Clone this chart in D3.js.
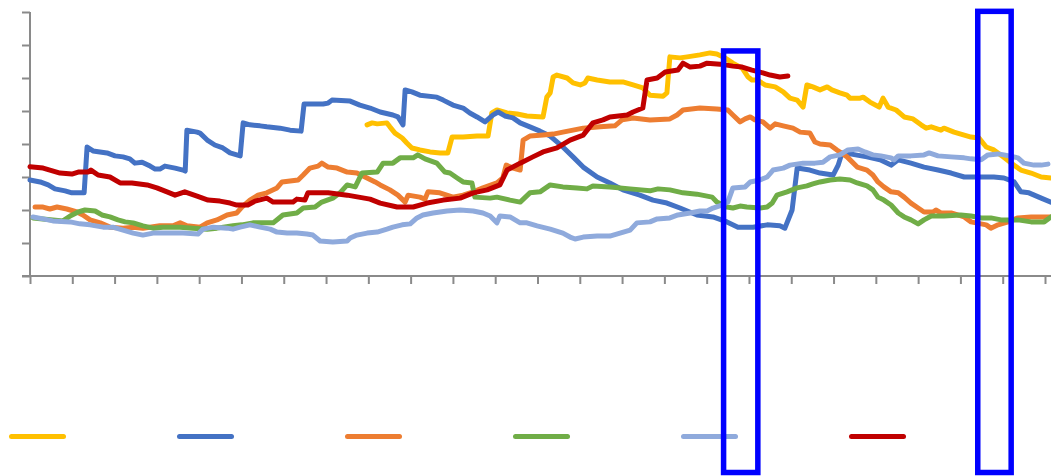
<!DOCTYPE html>
<html><head><meta charset="utf-8">
<script src="https://cdn.jsdelivr.net/npm/d3@7"></script>
<style>html,body{margin:0;padding:0;background:#fff}svg{display:block}</style>
</head><body>
<svg id="chart" width="1051" height="476"></svg>
<script>
// ---- data (x in period units, y in value units) ----
const xTicks = d3.range(0, 241, 10);
const yTicks = d3.range(0, 9, 1);

const yellowData = [[79.7,4.58],[80.9,4.64],[82.1,4.61],[84.4,4.64],[85.1,4.52],[86.3,4.33],[88.0,4.18],[89.1,4.03],[90.3,3.88],[92.2,3.82],[94.6,3.76],[97.0,3.73],[98.8,3.73],[99.8,4.21],[102.4,4.21],[105.7,4.24],[108.3,4.24],[109.2,4.94],[110.4,5.03],[112.8,4.94],[115.2,4.91],[117.5,4.85],[121.3,4.82],[122.2,5.42],[123.0,5.55],[123.7,6.03],[124.6,6.09],[127.0,6.00],[128.4,5.85],[130.1,5.79],[131.2,5.85],[131.9,6.00],[134.1,5.94],[137.1,5.88],[140.2,5.88],[142.6,5.79],[144.9,5.70],[146.6,5.48],[149.7,5.45],[150.6,5.55],[151.3,6.64],[153.7,6.61],[155.4,6.64],[158.4,6.70],[160.8,6.76],[162.4,6.73],[164.3,6.61],[166.2,6.45],[168.4,6.30],[169.8,6.03],[170.7,5.94],[171.9,5.94],[173.8,5.79],[176.2,5.73],[178.1,5.58],[179.7,5.39],[181.4,5.33],[182.8,5.12],[183.7,5.79],[185.1,5.73],[186.8,5.64],[188.5,5.73],[189.6,5.64],[191.5,5.55],[193.2,5.48],[193.9,5.39],[196.3,5.39],[197.0,5.42],[198.6,5.27],[200.8,5.12],[201.7,5.39],[202.9,5.12],[204.8,5.03],[206.7,4.82],[208.8,4.76],[210.7,4.58],[211.9,4.48],[213.1,4.52],[215.4,4.42],[216.1,4.48],[218.5,4.36],[220.9,4.27],[222.5,4.21],[224.4,4.18],[226.1,3.91],[227.9,3.82],[230.1,3.61],[232.0,3.42],[234.3,3.21],[236.7,3.12],[239.1,3.00],[241.4,2.97]];

const blueData = [[0,2.91],[2.4,2.85],[4.3,2.76],[5.9,2.64],[8.3,2.58],[9.9,2.52],[12.3,2.52],[12.8,2.52],[13.5,3.91],[14.9,3.79],[18.2,3.73],[20.1,3.64],[22.0,3.61],[23.6,3.55],[24.8,3.42],[26.5,3.45],[28.4,3.33],[29.6,3.24],[30.7,3.24],[31.9,3.33],[34.3,3.27],[36.2,3.21],[36.7,3.18],[37.1,4.42],[39.5,4.36],[40.2,4.33],[41.9,4.12],[43.7,3.97],[45.6,3.88],[47.3,3.73],[48.9,3.67],[49.7,3.64],[50.4,4.64],[52.0,4.58],[54.4,4.55],[56.0,4.52],[59.1,4.48],[61.5,4.42],[64.1,4.39],[64.8,5.21],[69.3,5.21],[70.5,5.24],[71.4,5.33],[75.7,5.30],[78.0,5.18],[80.4,5.09],[82.8,4.97],[85.8,4.88],[87.0,4.82],[88.2,4.58],[88.7,5.64],[90.3,5.58],[92.2,5.48],[96.2,5.42],[97.7,5.33],[100.0,5.18],[102.4,5.09],[104.0,4.94],[105.7,4.82],[107.6,4.67],[109.5,4.88],[110.7,4.97],[112.3,4.85],[114.2,4.79],[115.9,4.64],[118.2,4.52],[120.6,4.39],[123.0,4.24],[126.0,3.91],[128.4,3.61],[130.8,3.30],[134.1,3.00],[137.1,2.82],[140.2,2.61],[144.2,2.45],[147.3,2.30],[150.6,2.21],[153.7,2.06],[157.7,1.85],[161.5,1.79],[164.8,1.64],[167.4,1.48],[171.0,1.48],[174.3,1.55],[177.3,1.52],[178.5,1.45],[180.2,2.00],[181.4,3.27],[184.4,3.21],[186.8,3.12],[189.9,3.06],[191.1,3.36],[192.0,3.73],[193.9,3.70],[197.9,3.61],[201.0,3.52],[203.6,3.36],[205.3,3.52],[208.3,3.42],[211.4,3.30],[214.7,3.21],[217.8,3.12],[220.9,3.00],[224.9,3.00],[227.9,3.00],[230.3,2.97],[232.7,2.85],[234.3,2.55],[236.2,2.52],[239.1,2.36],[241.4,2.24]];

const orangeData = [[1.2,2.09],[3.1,2.09],[4.7,2.03],[6.4,2.09],[8.7,2.03],[11.1,1.94],[12.5,1.85],[14.2,1.70],[16.6,1.61],[18.9,1.48],[22.0,1.45],[24.4,1.48],[26.7,1.45],[30.7,1.52],[33.8,1.52],[35.5,1.61],[37.1,1.52],[40.2,1.48],[41.9,1.61],[44.2,1.70],[46.6,1.85],[48.9,1.91],[50.1,2.09],[52.0,2.30],[53.9,2.45],[56.0,2.52],[58.4,2.67],[59.6,2.85],[63.4,2.91],[64.6,3.06],[66.2,3.27],[68.1,3.33],[69.0,3.42],[70.5,3.30],[72.6,3.27],[75.0,3.15],[77.3,3.12],[79.7,2.97],[81.6,2.85],[82.8,2.76],[85.1,2.61],[87.0,2.45],[88.7,2.24],[89.4,2.45],[92.2,2.39],[93.4,2.33],[94.1,2.55],[96.9,2.52],[100.0,2.39],[102.4,2.45],[104.8,2.55],[107.1,2.67],[110.4,2.82],[111.8,2.97],[112.6,3.36],[114.2,3.27],[115.9,3.21],[116.6,4.12],[118.2,4.24],[121.3,4.27],[123.7,4.30],[126.0,4.36],[128.4,4.42],[130.8,4.48],[134.8,4.52],[138.3,4.55],[140.0,4.73],[142.6,4.79],[146.6,4.73],[151.3,4.76],[153.0,4.88],[154.4,5.03],[158.4,5.09],[162.4,5.06],[165.0,5.03],[166.2,4.88],[167.9,4.67],[169.1,4.76],[170.3,4.82],[171.4,4.73],[173.3,4.67],[175.0,4.48],[176.2,4.61],[178.1,4.55],[180.4,4.48],[182.1,4.36],[184.4,4.33],[185.6,4.06],[186.8,4.00],[189.2,3.97],[190.8,3.82],[193.2,3.61],[195.6,3.30],[197.9,3.21],[199.3,3.06],[200.5,2.85],[201.9,2.70],[203.6,2.55],[205.3,2.52],[206.7,2.39],[208.3,2.21],[210.0,2.06],[211.4,1.94],[213.5,1.94],[214.2,2.00],[215.4,1.91],[217.8,1.91],[220.9,1.79],[222.5,1.64],[226.1,1.55],[227.2,1.45],[228.9,1.55],[231.3,1.64],[233.6,1.76],[236.7,1.79],[241.4,1.79]];

const greenData = [[0.7,1.76],[5.4,1.70],[7.8,1.67],[9.5,1.82],[11.4,1.94],[13.0,2.00],[15.4,1.97],[17.0,1.85],[18.9,1.79],[20.8,1.70],[22.5,1.64],[24.4,1.61],[26.7,1.52],[29.1,1.45],[31.4,1.48],[35.5,1.48],[38.5,1.45],[41.9,1.42],[44.2,1.45],[48.0,1.52],[50.1,1.55],[52.7,1.61],[57.5,1.61],[59.8,1.85],[63.1,1.91],[64.6,2.06],[67.4,2.09],[69.0,2.24],[71.6,2.36],[73.3,2.52],[75.0,2.76],[76.9,2.70],[78.5,3.12],[82.1,3.15],[83.5,3.42],[85.8,3.42],[87.5,3.58],[90.6,3.58],[91.7,3.67],[93.4,3.55],[96.2,3.42],[98.1,3.15],[99.3,3.12],[101.0,2.97],[102.4,2.85],[104.5,2.82],[105.2,2.39],[108.8,2.36],[110.4,2.39],[113.5,2.30],[115.9,2.24],[118.2,2.52],[120.6,2.55],[123.0,2.76],[126.0,2.70],[129.3,2.67],[131.7,2.64],[133.1,2.73],[137.1,2.70],[141.9,2.64],[146.6,2.58],[148.5,2.64],[151.3,2.61],[154.4,2.52],[157.7,2.48],[161.3,2.39],[162.4,2.24],[164.8,2.09],[166.2,2.06],[167.9,2.12],[169.5,2.09],[172.6,2.06],[174.3,2.09],[175.5,2.21],[176.6,2.45],[179.0,2.55],[181.4,2.67],[183.7,2.73],[185.1,2.79],[186.8,2.85],[189.2,2.91],[191.5,2.94],[193.9,2.91],[195.6,2.82],[197.9,2.73],[199.3,2.61],[200.5,2.39],[201.9,2.30],[203.6,2.15],[205.3,1.91],[206.7,1.79],[208.3,1.70],[210.0,1.58],[211.4,1.70],[213.1,1.82],[216.1,1.82],[220.1,1.85],[222.5,1.82],[224.9,1.76],[227.2,1.76],[229.6,1.70],[233.6,1.70],[236.7,1.64],[239.8,1.64],[241.4,1.79]];

const lightBlueData = [[0.7,1.79],[3.1,1.73],[5.4,1.67],[9.5,1.64],[11.8,1.58],[14.2,1.55],[17.3,1.48],[19.6,1.48],[22.0,1.39],[24.4,1.30],[26.7,1.24],[29.1,1.30],[33.1,1.30],[36.2,1.30],[39.7,1.27],[40.9,1.42],[43.3,1.48],[46.6,1.45],[48.0,1.42],[49.7,1.48],[52.0,1.55],[54.4,1.48],[56.8,1.42],[58.4,1.33],[60.8,1.30],[63.1,1.30],[65.5,1.27],[66.9,1.24],[68.6,1.06],[71.6,1.03],[75.0,1.06],[75.7,1.15],[77.3,1.24],[79.7,1.30],[82.1,1.33],[84.4,1.42],[85.8,1.48],[88.0,1.55],[89.9,1.58],[91.5,1.76],[92.9,1.85],[95.3,1.91],[98.6,1.97],[101.7,2.00],[104.8,1.97],[107.1,1.91],[108.8,1.82],[110.4,1.61],[111.1,1.82],[113.5,1.79],[115.9,1.61],[117.5,1.61],[119.9,1.52],[123.0,1.42],[126.0,1.30],[127.7,1.18],[128.9,1.12],[130.8,1.18],[134.1,1.21],[137.1,1.21],[139.5,1.30],[141.9,1.39],[143.5,1.61],[146.6,1.64],[148.3,1.73],[151.3,1.76],[153.2,1.85],[156.1,1.91],[158.4,1.97],[160.1,1.97],[161.5,2.06],[163.6,2.15],[165.0,2.24],[166.2,2.67],[169.1,2.70],[170.3,2.85],[172.6,2.91],[174.3,3.00],[175.7,3.21],[178.1,3.27],[179.7,3.36],[182.8,3.42],[185.6,3.42],[187.5,3.45],[189.2,3.61],[191.5,3.67],[193.4,3.82],[195.8,3.85],[197.4,3.76],[199.3,3.67],[201.2,3.64],[203.6,3.58],[204.3,3.52],[205.3,3.64],[208.3,3.64],[211.4,3.67],[212.6,3.73],[214.7,3.64],[217.8,3.61],[220.9,3.58],[222.5,3.55],[224.9,3.52],[226.5,3.67],[228.9,3.70],[230.3,3.67],[233.6,3.58],[235.0,3.42],[237.4,3.36],[239.1,3.36],[240.7,3.39]];

const redData = [[0,3.31],[3.1,3.27],[4.7,3.21],[7.1,3.12],[9.9,3.09],[11.4,3.15],[13.7,3.15],[14.4,3.21],[16.1,3.06],[18.9,3.00],[21.3,2.82],[24.1,2.82],[27.7,2.76],[30.0,2.67],[32.4,2.55],[34.3,2.45],[36.6,2.55],[39.5,2.42],[42.1,2.30],[44.9,2.27],[47.3,2.21],[48.9,2.15],[51.5,2.15],[53.2,2.27],[56.0,2.36],[57.5,2.24],[62.2,2.24],[63.1,2.33],[65.0,2.30],[65.7,2.52],[70.5,2.52],[75.0,2.45],[80.4,2.33],[82.8,2.21],[86.8,2.09],[90.6,2.09],[93.9,2.21],[97.7,2.30],[101.7,2.36],[104.8,2.52],[108.1,2.61],[111.1,2.76],[112.8,3.21],[115.9,3.42],[118.9,3.61],[121.3,3.76],[124.6,3.88],[127.7,4.12],[130.8,4.27],[133.1,4.64],[135.5,4.73],[137.1,4.82],[141.2,4.88],[142.6,4.97],[144.9,5.09],[145.9,5.94],[148.3,6.00],[150.2,6.18],[153.2,6.24],[154.4,6.45],[156.1,6.33],[158.4,6.36],[160.1,6.45],[163.2,6.42],[166.2,6.36],[168.4,6.33],[170.7,6.24],[172.6,6.18],[175.0,6.09],[177.3,6.03],[179.2,6.06]];

const seriesKeys = ["yellow","blue","orange","green","lightBlue","red"];
const seriesColors = ["#FFC000","#4472C4","#ED7D31","#70AD47","#8FAADC","#C00000"];
const seriesValues = [yellowData, blueData, orangeData, greenData, lightBlueData, redData];

// highlighted periods [start, end, top value]
const highlightStart = [164.0, 224.1];
const highlightEnd = [172.1, 232.0];
const highlightTop = [6.82, 8.02];

// ---- layout ----
const W = 1051, H = 476;
const svg = d3.select("#chart");
const x = d3.scaleLinear().domain([0, 240]).range([30, 1045]);
const y = d3.scaleLinear().domain([0, 8]).range([276, 12]);
const axisColor = "#8a8a8a";

// y axis
const yAxis = svg.append("g").attr("transform", `translate(${x(0)},0)`)
  .call(d3.axisLeft(y).tickValues(yTicks).tickSize(8).tickFormat(""));
yAxis.select(".domain").remove();
yAxis.selectAll("line").attr("stroke", axisColor).attr("stroke-width", 2);
svg.append("line").attr("x1", x(0)).attr("x2", x(0)).attr("y1", y(8)).attr("y2", y(0))
  .attr("stroke", axisColor).attr("stroke-width", 2);

// x axis
const xAxis = svg.append("g").attr("transform", `translate(0,${y(0)})`)
  .call(d3.axisBottom(x).tickValues(xTicks).tickSize(8).tickFormat(""));
xAxis.select(".domain").remove();
xAxis.selectAll("line").attr("stroke", axisColor).attr("stroke-width", 2);
svg.append("line").attr("x1", x(0) - 8).attr("x2", W).attr("y1", y(0)).attr("y2", y(0))
  .attr("stroke", axisColor).attr("stroke-width", 2);

// lines
const line = d3.line().x(d => x(d[0])).y(d => y(d[1]));
seriesValues.forEach((data, i) => {
  svg.append("path").datum(data)
    .attr("fill", "none")
    .attr("stroke", seriesColors[i])
    .attr("stroke-width", 5)
    .attr("stroke-linejoin", "round")
    .attr("stroke-linecap", "round")
    .attr("d", line);
});

// legend (symbols only)
const legendX = d3.scalePoint().domain(seriesKeys).range([12, 852]);
const legend = svg.append("g");
seriesKeys.forEach((k, i) => {
  legend.append("line")
    .attr("x1", legendX(k) - 0.5).attr("x2", legendX(k) + 51.5)
    .attr("y1", 436.5).attr("y2", 436.5)
    .attr("stroke", seriesColors[i]).attr("stroke-width", 5)
    .attr("stroke-linecap", "round");
});

// highlight boxes
highlightStart.forEach((s, i) => {
  svg.append("rect")
    .attr("x", x(s)).attr("y", y(highlightTop[i]))
    .attr("width", x(highlightEnd[i]) - x(s))
    .attr("height", (H - 3.5) - y(highlightTop[i]))
    .attr("fill", "none").attr("stroke", "#0000FF").attr("stroke-width", 5.5);
});
</script>
</body></html>
